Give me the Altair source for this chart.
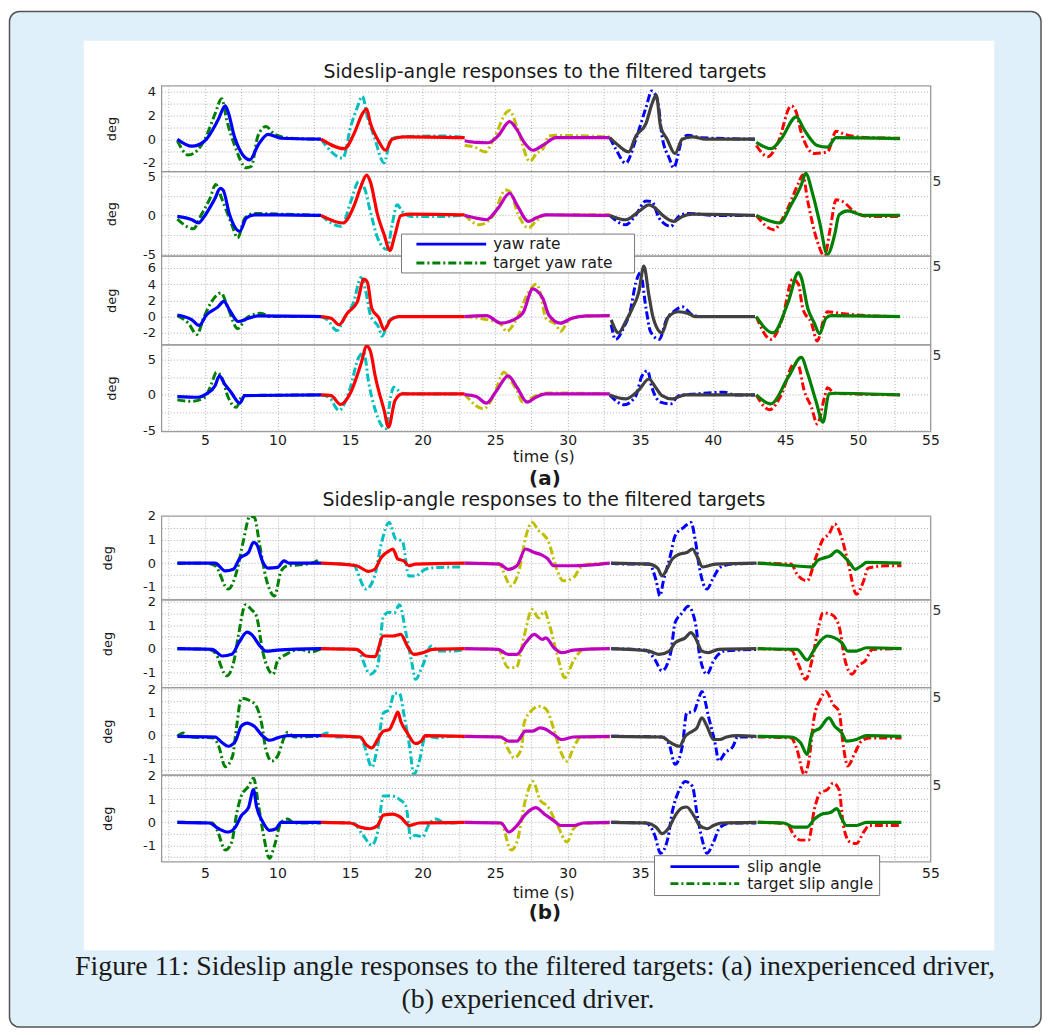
import altair as alt
import pandas as pd

# ---------------- data ----------------
ACT_COLORS = ["#0000ff", "#ff0000", "#bf00bf", "#404040", "#008000"]
TGT_COLORS = ["#008000", "#00bfbf", "#bfbf00", "#0000ff", "#ff0000"]
X_GRID = [2.5, 5, 7.5, 10, 12.5, 15, 17.5, 20, 22.5, 25, 27.5, 30, 32.5, 35,
          37.5, 40, 42.5, 45, 47.5, 50, 52.5, 55]

# (a) inexperienced driver
A1_ACT = [
    [(3.1, 0), (4.1, -0.59), (5.0, -0.13), (5.9, 1.6), (6.4, 2.8), (6.6, 2.27), (7.05, 0.13), (8.1, -1.73), (8.65, -0.53), (9.35, 0.4), (10.25, 0.08), (13.0, 0)],
    [(13.0, 0), (14.6, -0.8), (15.3, 0.53), (15.85, 2.13), (16.15, 2.53), (16.4, 1.33), (16.9, 0), (17.45, -0.93), (17.9, 0), (18.7, 0.2), (22.9, 0.13)],
    [(22.9, -0.13), (23.7, -0.27), (24.5, -0.3), (25.2, 0.27), (26.0, 1.47), (26.5, 0.8), (27.0, -0.27), (27.6, -0.93), (28.3, -0.5), (29.2, 0.13), (32.9, 0.13)],
    [(32.9, 0.13), (33.5, -0.53), (34.2, -1.07), (34.7, 0.27), (35.4, 1.33), (35.8, 2.93), (36.1, 3.73), (36.4, 1.07), (36.85, 0), (37.4, -1.2), (37.9, 0), (38.6, 0.2), (39.5, 0), (42.9, 0)],
    [(43.0, -0.27), (44.0, -0.8), (44.7, 0), (45.75, 1.87), (46.3, 0.8), (47.2, -0.53), (47.9, -0.67), (48.5, 0.13), (52.9, 0.05)],
]
A1_TGT = [
    [(3.1, -0.13), (3.85, -1.33), (5.0, 0), (5.7, 2.13), (6.15, 3.4), (6.5, 1.6), (7.05, -0.53), (7.85, -2.4), (8.2, -2.27), (8.65, 0.27), (9.2, 1.07), (9.8, 0.4), (10.9, 0.08), (13.0, 0)],
    [(13.0, 0), (14.5, -1.6), (15.05, 1.07), (15.5, 2.67), (15.85, 3.6), (16.2, 1.87), (16.65, 0.27), (17.35, -2.0), (17.8, 0), (18.5, 0.2), (21.4, 0.27), (22.9, 0.13)],
    [(22.9, -0.53), (23.6, -0.67), (24.3, -1.07), (24.9, 0), (25.8, 2.27), (26.0, 2.4), (26.5, 1.07), (27.4, -1.87), (27.85, -1.2), (28.3, -0.8), (28.7, 0.27), (29.2, 0.32), (32.9, 0.19)],
    [(32.9, 0.13), (33.3, -0.8), (34.0, -2.0), (34.7, 0), (35.4, 2.67), (35.8, 4.05), (36.2, 3.2), (36.5, 0.27), (37.0, -1.6), (37.3, -2.4), (37.9, 0), (38.3, 0.32), (39.2, 0.13), (42.9, 0)],
    [(43.0, -0.53), (43.8, -1.47), (44.5, -0.27), (45.4, 2.8), (45.75, 2.27), (46.1, 0.53), (47.0, -1.2), (47.9, -1.07), (48.5, 0.67), (49.1, 0.4), (50.7, 0.13), (52.9, 0.08)],
]
A2_ACT = [
    [(3.1, -0.13), (4.1, -0.55), (4.55, -0.97), (5.0, 0), (5.7, 2.2), (6.05, 3.47), (6.25, 3.26), (6.7, 0.08), (7.4, -2.03), (7.85, -0.34), (8.4, 0.08), (10.0, 0.08), (13.0, 0)],
    [(13.0, 0), (14.5, -0.97), (15.3, 1.36), (15.7, 3.47), (16.15, 5.17), (16.4, 4.3), (16.9, 0.08), (17.35, -2.46), (17.75, -4.5), (18.1, -2.46), (18.5, 0), (19.2, 0.17), (22.9, 0.08)],
    [(22.9, 0), (23.7, -0.34), (24.4, -0.55), (25.2, 0.93), (26.0, 2.84), (26.5, 1.36), (27.3, -0.76), (27.8, -0.34), (28.5, 0.08), (32.9, 0)],
    [(32.9, 0), (34.0, -0.55), (34.9, 0.5), (35.6, 1.36), (36.05, 0.93), (36.5, 0.08), (37.3, -0.76), (37.9, -0.13), (38.6, 0.17), (42.9, 0)],
    [(43.0, 0), (44.6, -0.97), (45.4, 1.36), (46.1, 3.9), (46.4, 5.38), (46.9, 2.63), (47.35, -0.76), (47.9, -5.0), (48.4, -2.46), (48.7, 0.08), (49.3, 0.59), (50.4, 0), (52.9, 0)],
]
A2_TGT = [
    [(3.1, -0.47), (4.2, -1.7), (4.75, 0.08), (5.35, 2.2), (5.75, 3.98), (6.15, 2.2), (6.85, -1.19), (7.25, -2.88), (7.75, -0.34), (8.4, 0.25), (10.0, 0.17), (13.0, 0)],
    [(13.0, 0), (14.4, -1.4), (15.05, 1.78), (15.6, 4.32), (16.0, 3.47), (16.4, 0.5), (16.9, -2.88), (17.55, -4.36), (17.9, -1.19), (18.25, 1.36), (18.6, 0.5), (19.2, -0.13), (21.4, -0.13), (22.9, 0.08)],
    [(22.9, 0.08), (23.9, -1.19), (24.9, 0.08), (25.7, 3.26), (26.0, 3.1), (26.6, 0.08), (27.3, -1.61), (27.8, -0.76), (28.5, 0.08), (32.9, 0.08)],
    [(32.9, 0), (34.0, -1.19), (34.7, 0.08), (35.4, 1.86), (35.8, 1.78), (36.3, -0.34), (37.1, -1.4), (37.65, -0.13), (38.3, 0.25), (40.2, 0), (42.9, 0)],
    [(43.0, 0), (44.2, -1.82), (44.95, 0.08), (45.9, 4.1), (46.2, 5.17), (46.55, 1.78), (47.2, -3.3), (47.7, -5.2), (48.1, -1.61), (48.5, 2.0), (48.95, 1.78), (49.75, 0.5), (50.7, -0.13), (52.9, -0.13)],
]
A3_ACT = [
    [(3.1, 0.2), (4.1, -0.4), (4.6, -1.08), (5.1, 0.2), (5.9, 1.2), (6.3, 1.88), (6.7, 0.8), (7.3, -0.6), (8.0, -0.2), (8.65, 0.08), (13.0, 0)],
    [(13.0, 0), (13.7, -0.2), (14.25, -1.0), (14.8, 0.4), (15.5, 1.8), (15.95, 4.6), (16.2, 4.2), (16.5, 1.0), (17.0, -0.2), (17.35, -1.6), (17.8, -0.4), (18.35, 0), (22.9, 0)],
    [(22.9, 0), (24.4, 0.12), (25.4, -0.8), (26.0, -0.6), (26.9, 0.4), (27.6, 3.4), (27.85, 3.2), (28.3, 2.2), (28.7, 0.2), (29.5, -0.8), (30.3, -0.2), (31.3, 0.08), (32.9, 0.12)],
    [(33.0, -0.4), (33.5, -2.0), (34.0, -0.6), (34.45, 1.0), (34.9, 3.0), (35.25, 6.2), (35.6, 2.6), (35.9, -0.2), (36.5, -2.0), (36.95, 0), (37.65, 0.6), (38.3, 0.4), (38.8, 0), (42.9, 0)],
    [(43.0, 0), (44.15, -2.0), (45.2, 1.8), (45.9, 5.4), (46.1, 4.8), (46.55, 1.0), (47.0, -0.8), (47.35, -2.1), (47.8, -0.2), (48.15, 0.12), (52.9, 0)],
]
A3_TGT = [
    [(3.1, 0.12), (3.85, -0.8), (4.45, -2.2), (4.9, -0.2), (5.45, 1.8), (6.1, 2.92), (6.6, 1.0), (7.25, -1.48), (7.85, -0.2), (8.85, 0.4), (9.55, 0), (13.0, 0)],
    [(13.0, 0), (13.45, -0.4), (14.1, -1.72), (14.6, -0.2), (15.25, 1.8), (15.75, 4.8), (16.05, 3.4), (16.4, 0.2), (17.0, -1.4), (17.2, -2.4), (17.65, -0.6), (18.25, 0), (22.9, 0)],
    [(22.9, 0), (25.3, -0.8), (25.8, -1.8), (26.5, -0.2), (27.3, 3.0), (27.85, 4.0), (28.1, 3.0), (28.5, -0.2), (29.2, -1.0), (29.5, -1.8), (30.1, -0.4), (30.8, 0), (32.9, 0.12)],
    [(33.0, -1.0), (33.3, -2.8), (33.9, -1.2), (34.3, 0.6), (34.7, 4.2), (35.0, 5.4), (35.4, 1.0), (35.7, -1.8), (36.3, -2.8), (36.85, -0.2), (37.3, 0.6), (37.9, 1.2), (38.6, 0.2), (39.2, 0), (42.9, 0)],
    [(43.0, 0), (44.0, -2.8), (44.8, -0.2), (45.5, 4.6), (45.9, 4.0), (46.2, 1.0), (46.8, -0.8), (47.2, -3.0), (47.7, 0), (47.9, 0.6), (48.8, 0.4), (50.7, 0.12), (52.9, 0)],
]
A4_ACT = [
    [(3.1, -0.23), (4.55, -0.33), (5.1, 0.14), (5.7, 1.3), (6.0, 2.7), (6.35, 1.55), (6.8, 0.38), (7.4, -1.17), (7.75, -0.1), (13.0, 0)],
    [(13.0, 0), (13.7, -0.1), (14.35, -1.36), (15.05, 0.38), (15.75, 4.37), (16.15, 6.9), (16.4, 6.2), (16.75, 2.5), (17.35, -2.2), (17.65, -4.55), (18.1, -0.8), (18.6, 0.14), (22.9, 0.14)],
    [(22.9, 0.05), (23.7, -0.23), (24.4, -1.17), (25.1, 0.6), (25.9, 2.7), (26.5, 1.08), (27.2, -1.03), (27.8, -0.33), (28.5, 0.14), (32.9, 0.14)],
    [(32.9, 0), (34.0, -0.56), (34.9, 0.7), (35.6, 2.25), (36.05, 1.08), (36.5, -0.1), (37.2, -0.56), (38.1, 0), (42.9, 0)],
    [(43.0, 0), (44.0, -1.27), (45.2, 2.5), (46.1, 5.3), (46.55, 2.96), (47.1, -0.8), (47.6, -3.85), (48.0, 0.14), (48.4, 0.23), (52.9, 0)],
]
A4_TGT = [
    [(3.1, -0.7), (4.1, -0.9), (5.0, -0.33), (5.45, 1.55), (5.8, 3.2), (6.15, 2.5), (6.6, -0.33), (7.15, -1.74), (7.6, -0.1), (13.0, 0)],
    [(13.0, 0), (13.55, -0.33), (14.25, -2.2), (14.95, 0.6), (15.6, 5.3), (15.95, 6.0), (16.3, 1.55), (16.75, -2.2), (17.45, -4.8), (17.8, -0.33), (18.0, 1.08), (18.6, 0.23), (19.2, 0.14), (22.9, 0.14)],
    [(22.9, 0.14), (24.2, -1.97), (24.9, -0.1), (25.6, 3.2), (26.0, 2.25), (26.5, 0.6), (26.9, -1.03), (27.8, -0.1), (28.7, 0.28), (32.9, 0.14)],
    [(32.9, 0), (33.9, -1.4), (34.7, -0.1), (35.1, 2.6), (35.5, 3.4), (35.8, 1.08), (36.4, -1.03), (37.1, -1.27), (37.65, -0.1), (38.8, 0.14), (40.8, 0.38), (41.5, 0), (42.9, 0)],
    [(43.0, 0), (43.9, -2.1), (44.7, -0.1), (45.6, 4.37), (45.9, 4.1), (46.3, 0.6), (46.8, -1.74), (47.2, -4.1), (47.7, -0.33), (47.9, 1.0), (48.4, 0.23), (52.9, 0)],
]

# (b) experienced driver
B1_ACT = [
    [(3.1, 0), (5.7, 0), (6.4, -0.33), (6.95, -0.26), (7.4, 0.21), (8.0, 0.45), (8.35, 0.88), (8.55, 0.81), (9.0, 0.03), (9.35, -0.21), (10.0, -0.18), (10.45, 0.1), (10.8, 0), (13.0, 0)],
    [(13.0, 0), (15.45, -0.11), (16.25, -0.35), (16.7, -0.26), (17.15, 0.24), (17.7, 0.52), (17.95, 0.6), (18.3, 0.17), (18.7, 0.1), (19.05, -0.11), (19.5, -0.04), (22.9, 0)],
    [(22.9, 0), (25.3, -0.04), (25.9, -0.26), (26.5, -0.11), (27.1, 0.6), (27.7, 0.45), (28.2, 0.35), (28.6, 0.2), (29.05, -0.11), (30.4, -0.11), (32.9, 0)],
    [(33.0, 0), (35.6, -0.04), (36.2, -0.21), (36.5, -0.54), (36.9, -0.18), (37.2, 0.17), (37.7, 0.38), (38.2, 0.45), (38.6, 0.6), (38.9, 0.31), (39.3, -0.16), (39.7, -0.11), (40.2, -0.04), (43.0, 0)],
    [(43.1, 0), (45.6, -0.11), (46.85, -0.16), (47.2, 0.1), (47.6, 0.21), (48.1, 0.31), (48.55, 0.52), (49.0, 0.31), (49.5, -0.04), (49.8, -0.26), (50.25, -0.11), (50.6, 0.03), (53.0, 0)],
]
B1_TGT = [
    [(3.1, 0), (5.0, 0), (5.7, -0.11), (6.6, -1.1), (7.2, -0.33), (7.65, 0.95), (8.1, 1.99), (8.4, 1.94), (8.8, 0.67), (9.2, -0.61), (9.8, -1.39), (10.25, -0.33), (10.7, -0.11), (11.6, -0.07), (12.5, 0.03), (12.9, 0.17)],
    [(13.0, 0), (15.2, -0.07), (16.1, -1.1), (16.7, -0.54), (17.15, 0.81), (17.7, 1.73), (18.15, 1.02), (18.6, 0.95), (19.05, -0.54), (19.5, -0.54), (20.2, -0.26), (21.1, -0.18), (22.7, -0.16)],
    [(22.9, 0), (25.2, 0), (26.1, -0.96), (26.7, -0.18), (27.1, 1.09), (27.55, 1.73), (28.0, 1.38), (28.35, 1.2), (28.65, 0.95), (29.2, -0.18), (29.7, -0.75), (30.4, -0.61), (30.9, -0.18), (31.5, -0.04), (32.9, 0)],
    [(33.0, 0), (34.0, -0.04), (35.6, -0.04), (36.1, -0.75), (36.35, -1.39), (36.6, -0.75), (37.1, 0.38), (37.4, 1.16), (38.0, 1.52), (38.5, 1.73), (38.8, 0.95), (39.1, -0.26), (39.6, -1.1), (40.0, -0.67), (40.5, -0.18), (41.3, -0.04), (43.0, -0.01)],
    [(43.1, 0), (45.4, -0.04), (45.8, -0.47), (46.5, -0.75), (47.1, 0.24), (47.6, 1.02), (48.0, 1.23), (48.4, 1.66), (48.8, 1.23), (49.3, 0.1), (49.9, -1.32), (50.4, -0.75), (50.7, -0.21), (51.95, -0.11), (53.0, -0.11)],
]
B2_ACT = [
    [(3.1, 0), (5.5, -0.03), (6.2, -0.31), (6.85, -0.24), (7.4, 0.32), (7.9, 0.7), (8.2, 0.61), (8.8, 0.11), (9.2, -0.1), (10.0, -0.06), (13.0, 0)],
    [(13.0, 0), (15.45, -0.03), (16.1, -0.31), (16.7, -0.34), (17.3, 0.54), (17.95, 0.54), (18.5, 0.61), (18.95, 0.11), (19.4, -0.24), (20.0, -0.17), (20.7, -0.03), (22.9, 0)],
    [(22.9, 0), (25.2, -0.03), (25.9, -0.24), (26.5, -0.24), (27.1, 0.25), (27.7, 0.61), (28.25, 0.39), (28.5, 0.46), (29.05, 0.04), (29.6, -0.17), (30.4, -0.06), (32.9, 0)],
    [(33.0, 0), (35.6, -0.1), (36.3, -0.24), (37.0, -0.1), (37.4, 0.25), (38.1, 0.46), (38.5, 0.68), (38.8, 0.46), (39.25, -0.1), (39.7, -0.17), (40.4, -0.03), (43.0, 0)],
    [(43.1, 0), (45.8, -0.03), (46.5, -0.48), (47.0, -0.03), (47.4, 0.32), (47.9, 0.54), (48.4, 0.46), (48.9, 0.25), (49.3, -0.1), (49.9, -0.1), (50.6, 0.04), (53.0, 0)],
]
B2_TGT = [
    [(3.1, 0), (5.3, -0.03), (5.7, -0.17), (6.5, -1.15), (7.0, -0.52), (7.3, 0.54), (7.8, 1.87), (8.2, 1.66), (8.55, 1.38), (9.0, -0.17), (9.7, -1.08), (10.0, -0.52), (10.6, -0.24), (11.6, -0.03), (12.3, -0.14), (13.0, 0)],
    [(13.0, 0), (15.45, -0.03), (16.4, -1.08), (16.9, -0.73), (17.3, 1.38), (17.7, 1.55), (18.05, 1.52), (18.4, 1.87), (18.85, 0.68), (19.3, -0.73), (19.5, -1.3), (20.0, -0.73), (20.6, 0.11), (21.1, -0.1), (22.0, -0.1), (22.9, -0.03)],
    [(22.9, 0), (25.2, -0.03), (25.9, -0.8), (26.45, -0.8), (27.0, 0.54), (27.55, 1.66), (28.0, 1.31), (28.4, 1.59), (28.7, 1.1), (29.3, -0.31), (29.8, -1.23), (30.4, -0.52), (31.1, -0.03), (32.9, 0)],
    [(33.0, 0), (35.4, -0.06), (36.0, -0.45), (36.5, -0.94), (37.1, -0.17), (37.4, 1.1), (37.9, 1.52), (38.3, 1.8), (38.8, 1.1), (39.1, -0.31), (39.6, -1.08), (40.05, -0.52), (40.8, -0.1), (43.0, -0.03)],
    [(43.1, 0), (45.4, -0.06), (45.9, -0.66), (46.4, -1.3), (46.85, -0.45), (47.3, 0.96), (47.6, 1.52), (48.2, 1.45), (48.7, 0.96), (49.1, -0.45), (49.6, -1.08), (50.0, -0.73), (50.5, -0.52), (51.0, -0.03), (53.0, 0)],
]
B3_ACT = [
    [(3.1, -0.03), (5.7, -0.06), (6.2, -0.31), (6.6, -0.46), (7.1, -0.24), (7.5, 0.4), (7.9, 0.54), (8.4, 0.4), (9.0, -0.03), (9.45, -0.2), (10.0, -0.1), (10.7, 0), (13.0, 0)],
    [(13.0, 0), (15.7, -0.06), (16.1, -0.39), (16.5, -0.53), (16.9, -0.17), (17.3, 0.19), (17.7, 0.26), (18.05, 0.69), (18.3, 1.01), (18.5, 0.61), (18.95, 0.11), (19.5, -0.34), (19.9, -0.24), (20.2, 0), (22.9, -0.03)],
    [(22.9, -0.03), (25.4, -0.06), (25.9, -0.24), (26.5, -0.24), (27.1, 0.19), (27.55, 0.19), (28.1, 0.33), (28.4, 0.29), (29.05, 0.04), (29.6, -0.17), (30.4, -0.06), (32.9, -0.03)],
    [(33.0, -0.03), (36.5, -0.06), (37.1, -0.31), (37.7, -0.46), (38.1, -0.03), (38.6, 0.19), (38.9, 0.33), (39.25, 0.76), (39.6, 0.4), (40.05, -0.17), (40.5, -0.17), (40.95, -0.06), (41.7, 0), (43.0, -0.03)],
    [(43.1, -0.03), (45.4, -0.06), (46.05, -0.31), (46.5, -0.81), (46.85, 0.11), (47.4, 0.33), (48.0, 0.76), (48.4, 0.4), (48.9, 0.11), (49.2, -0.24), (49.9, -0.17), (50.6, 0), (53.0, -0.03)],
]
B3_TGT = [
    [(3.1, -0.03), (3.5, 0.11), (3.9, -0.06), (5.6, -0.1), (5.95, -0.46), (6.4, -1.34), (6.9, -0.89), (7.2, 0.47), (7.5, 1.61), (8.2, 1.47), (8.55, 1.26), (8.9, 0.54), (9.2, -0.6), (9.6, -1.1), (10.0, -0.89), (10.5, -0.03), (10.7, 0.14), (11.15, -0.06), (13.0, -0.03)],
    [(13.0, 0), (13.4, 0.11), (13.9, -0.06), (15.7, -0.06), (16.0, -0.46), (16.5, -1.36), (16.9, -0.46), (17.3, 0.97), (17.7, 1.11), (18.05, 1.83), (18.4, 1.83), (18.7, 0.97), (19.1, -0.46), (19.4, -1.67), (19.75, -1.17), (20.2, -0.03), (21.1, -0.1), (22.0, -0.03), (22.9, -0.06)],
    [(22.9, -0.03), (25.4, -0.06), (25.9, -0.6), (26.3, -0.96), (26.8, -0.6), (27.0, 0.54), (27.45, 1.04), (28.0, 1.26), (28.5, 1.15), (29.05, 0.26), (29.5, -0.67), (29.95, -1.1), (30.4, -0.53), (30.9, -0.06), (32.9, -0.06)],
    [(33.0, -0.03), (36.5, -0.06), (37.0, -0.39), (37.4, -1.24), (37.9, -0.46), (38.2, 0.97), (38.7, 1.04), (39.0, 1.54), (39.25, 1.9), (39.7, 0.83), (40.2, -0.46), (40.4, -1.1), (40.85, -0.74), (41.4, -0.46), (41.7, -0.06), (43.0, -0.06)],
    [(43.1, -0.06), (45.4, -0.1), (45.8, -0.6), (46.3, -1.67), (46.6, -1.17), (47.0, 0.83), (47.4, 1.54), (47.8, 1.9), (48.3, 1.33), (48.7, 1.04), (49.0, -0.46), (49.3, -1.31), (49.8, -0.74), (50.25, -0.24), (50.8, -0.1), (53.0, -0.1)],
]
B4_ACT = [
    [(3.1, 0), (5.3, -0.03), (5.95, -0.28), (6.6, -0.42), (7.1, -0.21), (7.5, 0.28), (8.0, 0.63), (8.35, 1.41), (8.55, 0.7), (9.0, 0), (9.45, -0.35), (9.9, -0.28), (10.25, 0), (13.0, 0)],
    [(13.0, 0), (15.0, -0.03), (15.7, -0.21), (16.4, -0.28), (16.9, -0.14), (17.3, 0.31), (17.95, 0.35), (18.5, 0.21), (19.1, -0.14), (19.75, -0.03), (22.9, 0)],
    [(22.9, 0), (25.4, -0.03), (25.95, -0.42), (26.5, -0.14), (27.1, 0.35), (27.8, 0.63), (28.4, 0.35), (29.05, 0.07), (29.5, -0.14), (30.4, -0.14), (31.1, -0.03), (32.9, 0)],
    [(33.0, 0), (35.4, -0.03), (36.1, -0.21), (36.5, -0.49), (37.0, -0.21), (37.4, 0.28), (37.9, 0.63), (38.2, 0.66), (38.7, 0.28), (39.1, -0.14), (39.6, -0.28), (40.05, -0.14), (40.6, -0.03), (43.0, 0)],
    [(43.1, 0), (44.9, -0.03), (45.6, -0.21), (46.5, -0.21), (47.0, 0.14), (47.5, 0.35), (48.1, 0.42), (48.55, 0.59), (48.9, 0.14), (49.2, -0.14), (49.9, -0.14), (50.6, 0), (53.0, 0)],
]
B4_TGT = [
    [(3.1, 0), (5.5, -0.03), (5.85, -0.35), (6.4, -1.2), (6.85, -0.85), (7.2, 0.42), (7.5, 1.13), (8.0, 1.55), (8.35, 1.9), (8.7, 0.7), (9.0, -0.42), (9.45, -1.55), (9.8, -0.99), (10.25, 0), (10.7, 0.14), (11.15, -0.03), (13.0, -0.03)],
    [(13.0, 0), (15.2, -0.03), (15.9, -0.56), (16.5, -0.99), (16.9, -0.42), (17.3, 1.13), (17.8, 1.15), (18.4, 0.99), (18.85, 0.7), (19.2, -0.7), (19.5, -0.56), (20.0, -0.63), (20.4, -0.14), (20.9, 0.14), (21.6, -0.03), (22.9, 0)],
    [(22.9, 0), (25.4, -0.03), (26.1, -1.2), (26.5, -0.85), (27.1, 0.99), (27.6, 1.76), (28.1, 0.95), (28.6, 0.7), (29.3, -0.14), (29.95, -0.85), (30.4, -0.28), (31.1, -0.03), (32.9, -0.03)],
    [(33.0, 0), (35.4, -0.03), (36.0, -0.56), (36.4, -1.34), (36.9, -0.7), (37.2, 0.42), (37.7, 1.41), (38.1, 1.76), (38.6, 1.55), (38.9, 0.42), (39.25, -0.7), (39.6, -1.34), (40.05, -0.85), (40.5, -0.21), (41.3, -0.03), (43.0, -0.03)],
    [(43.1, 0), (45.1, -0.07), (45.6, -0.56), (46.05, -0.77), (46.6, -0.77), (47.0, 0.56), (47.4, 1.27), (47.9, 1.41), (48.3, 1.69), (48.7, 1.41), (49.0, -0.14), (49.45, -0.85), (49.9, -0.92), (50.4, -0.42), (50.8, -0.14), (53.0, -0.14)],
]

TITLE = "Sideslip-angle responses to the filtered targets"
CAPTION_1 = "Figure 11: Sideslip angle responses to the filtered targets: (a) inexperienced driver,"
CAPTION_2 = "(b) experienced driver."

# ---------------- helpers ----------------
W = 772
FONT = "DejaVu Sans"
ONE = pd.DataFrame({"k": [0]})
NO_FRAME = alt.ViewBackground(stroke="transparent")


def frame(segs, colors):
    rows = []
    for s, pts in enumerate(segs):
        for i, (t, v) in enumerate(pts):
            rows.append({"seg": s, "i": i, "t": t, "v": v, "col": colors[s]})
    return pd.DataFrame(rows)


def text_at(txt, x, y, size, weight="normal", font=FONT, align="center", color="#1a1a1a"):
    return alt.Chart(ONE).mark_text(
        text=txt, font=font, fontSize=size, fontWeight=weight, align=align,
        baseline="middle", color=color,
    ).encode(x=alt.value(x), y=alt.value(y))


def legend(x0, y0, x1, y1, rows, label_a, label_t, size):
    box = alt.Chart(ONE).mark_rect(fill="white", stroke="#777777", strokeWidth=1).encode(
        x=alt.value(x0), x2=alt.value(x1), y=alt.value(y0), y2=alt.value(y1))
    lx0, lx1, tx = rows[0], rows[1], rows[2]
    r1, r2 = rows[3], rows[4]
    l1 = alt.Chart(ONE).mark_rule(color="#0000ff", strokeWidth=2.8).encode(
        x=alt.value(lx0), x2=alt.value(lx1), y=alt.value(r1))
    l2 = alt.Chart(ONE).mark_rule(color="#008000", strokeWidth=2.8, strokeDash=[8, 3, 2, 3]).encode(
        x=alt.value(lx0), x2=alt.value(lx1), y=alt.value(r2))
    t1 = text_at(label_a, tx, r1, size, align="left")
    t2 = text_at(label_t, tx, r2, size, align="left")
    return [box, l1, l2, t1, t2]


def ylabels(cond):
    return f"{cond} ? (datum.value < 0 ? '-' + abs(datum.value) : '' + datum.value) : ''"


def panel(act, tgt, ydom, ygrid, ylab, h, xlabels=False, xpad=3, title_x=-50,
          xlab="datum.value % 5 == 0 ? datum.value : ''", extra=None):
    xaxis = alt.Axis(values=X_GRID, grid=True, labels=xlabels, ticks=False, tickSize=0,
                     domain=False, title=None, labelFlush=False, labelPadding=xpad,
                     labelFontSize=14, labelOverlap=False, labelExpr=xlab)
    yaxis = alt.Axis(values=ygrid, grid=True, ticks=False, tickSize=0, domain=False,
                     title="deg", titleX=title_x, titleY=h / 2, titleAngle=270,
                     titleAlign="center", titleBaseline="middle", titleFontSize=13,
                     titleFontWeight="normal", labelFontSize=13, labelPadding=6,
                     labelOverlap=False, labelExpr=ylab)
    xenc = alt.X("t:Q", scale=alt.Scale(domain=[2, 55], nice=False, zero=False), axis=xaxis)
    yenc = alt.Y("v:Q", scale=alt.Scale(domain=ydom, nice=False, zero=False), axis=yaxis)
    tl = alt.Chart(frame(tgt, TGT_COLORS)).mark_line(
        clip=True, strokeWidth=3.0, strokeDash=[8, 3, 2, 3], strokeJoin="round",
        interpolate="monotone"
    ).encode(x=xenc, y=yenc, color=alt.Color("col:N", scale=None),
             detail="seg:N", order="i:Q")
    al = alt.Chart(frame(act, ACT_COLORS)).mark_line(
        clip=True, strokeWidth=3.2, strokeJoin="round", interpolate="monotone"
    ).encode(x=xenc, y=yenc, color=alt.Color("col:N", scale=None),
             detail="seg:N", order="i:Q")
    return alt.layer(tl, al, *(extra or [])).properties(width=W, height=h)


EVEN = ylabels("datum.value % 2 == 0")
FIVE = ylabels("datum.value % 5 == 0")
ALL = ylabels("true")
INT = ylabels("datum.value % 1 == 0")
B_GRID = [-1.5, -1, -0.5, 0, 0.5, 1, 1.5, 2]


def five_mark():
    return text_at("5", W + 2, 11, 14, align="left", color="#333333")


# background: outer box, image area, titles, caption (origin at page (162, 83))
bg = alt.layer(
    alt.Chart(ONE).mark_rect(fill="#dff0fa", stroke="#555555", strokeWidth=1.5,
                             strokeJoin="round", cornerRadius=10).encode(
        x=alt.value(-152.5), x2=alt.value(883), y=alt.value(-73.5), y2=alt.value(946)),
    alt.Chart(ONE).mark_rect(fill="white").encode(
        x=alt.value(-78), x2=alt.value(836), y=alt.value(-44), y2=alt.value(869)),
    text_at(TITLE, 385, -13, 19),
    text_at("time (s)", 384, 374, 16),
    text_at("(a)", 385, 396, 20, weight="bold"),
    text_at(TITLE, 384, 417, 19),
    text_at("time (s)", 384, 811, 16),
    text_at("(b)", 385, 832, 20, weight="bold"),
    text_at(CAPTION_1, 375, 886, 28, font="Liberation Serif"),
    text_at(CAPTION_2, 368, 919, 28, font="Liberation Serif"),
).properties(width=W, height=1, view=NO_FRAME)

a1 = panel(A1_ACT, A1_TGT, [-2.7, 4.49], [-2, -1, 0, 1, 2, 3, 4], EVEN, 86)
a2 = panel(A2_ACT, A2_TGT, [-5.2, 5.65], [-5, -2.5, 0, 2.5, 5], FIVE, 85, extra=[five_mark()])
a3 = panel(A3_ACT, A3_TGT, [-3.45, 7.45], [-2, 0, 2, 4, 6], ALL, 89,
           extra=[five_mark()] + legend(241, -22, 475, 17, (256, 326, 333, -12, 7),
                                        "yaw rate", "target yaw rate", 15.5))
a4 = panel(A4_ACT, A4_TGT, [-5.15, 7.1], [-5, -2.5, 0, 2.5, 5], FIVE, 87,
           xlabels=True, xpad=2, extra=[five_mark()])

gap = alt.Chart(ONE).mark_point(opacity=0).encode(
    x=alt.value(0), y=alt.value(0)).properties(width=W, height=85, view=NO_FRAME)

b1 = panel(B1_ACT, B1_TGT, [-1.55, 2.0], B_GRID, INT, 84, title_x=-54)
b2 = panel(B2_ACT, B2_TGT, [-1.64, 2.08], B_GRID, INT, 88, title_x=-54, extra=[five_mark()])
b3 = panel(B3_ACT, B3_TGT, [-1.7, 2.08], B_GRID, INT, 88, title_x=-54, extra=[five_mark()])
b4 = panel(B4_ACT, B4_TGT, [-1.7, 2.04], B_GRID, INT, 87, xlabels=True, xpad=5, title_x=-54,
           xlab="datum.value % 5 == 0 && (datum.value < 40 || datum.value > 50) ? datum.value : ''",
           extra=[five_mark()] + legend(495, 81, 721, 121, (511, 580, 588, 92, 109),
                                        "slip angle", "target slip angle", 15.5))

chart = alt.vconcat(bg, a1, a2, a3, a4, gap, b1, b2, b3, b4, spacing=0, bounds="flush").properties(
    padding=0, background="white"
).configure_view(
    stroke="#9a9a9a", strokeWidth=1.3
).configure_axis(
    labelFont=FONT, titleFont=FONT, labelColor="#1a1a1a", titleColor="#1a1a1a",
    gridColor="#b0b0b0", gridDash=[1, 2], gridWidth=1
)

chart.save("out.html", embed_options={"renderer": "svg", "actions": False})
